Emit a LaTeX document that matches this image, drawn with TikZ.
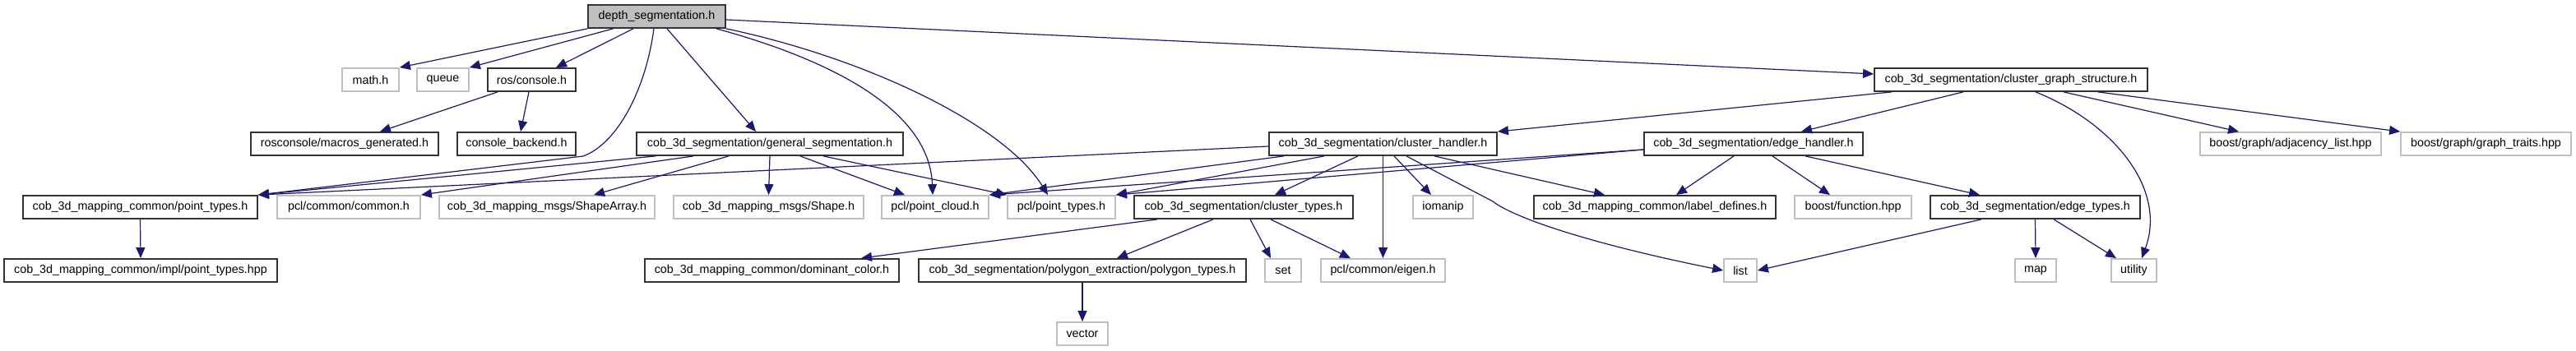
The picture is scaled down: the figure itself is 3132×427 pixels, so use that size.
\documentclass[tikz,border=0pt]{standalone}
\usepackage{fontspec}
\setmainfont{Liberation Sans}
\usetikzlibrary{arrows.meta,calc}
\definecolor{edgeblue}{HTML}{191970}
\definecolor{boxgray}{HTML}{BFBFBF}

\begin{document}
\begin{tikzpicture}[x=0.5pt,y=-0.5pt,
    hfile/.style={draw=black!80, line width=0.9pt, fill=white, minimum height=14pt, inner sep=0pt, font=\fontsize{7.15}{8}\selectfont},
    sysfile/.style={hfile, draw=boxgray},
    mainfile/.style={hfile, fill=boxgray},
    inc/.style={draw=edgeblue, line width=0.6pt, -{Triangle[length=6.5pt,width=5.5pt]}}]
    \useasboundingbox (0,0) rectangle (3132,427);

    \node[mainfile, minimum width=83.5pt] (depth) at (798.5,20) {depth\_segmentation.h};

    \node[sysfile, minimum width=34.5pt] (math) at (450.5,97) {math.h};
    \node[sysfile, minimum width=31.5pt] (queue) at (538.5,97) {queue};
    \node[hfile, minimum width=53.5pt] (roscon) at (646.5,97) {ros/console.h};
    \node[hfile, minimum width=166pt] (cgs) at (2445,97) {cob\_3d\_segmentation/cluster\_graph\_structure.h};

    \node[hfile, minimum width=114pt] (macros) at (419,175) {rosconsole/macros\_generated.h};
    \node[hfile, minimum width=72pt] (backend) at (628,175) {console\_backend.h};
    \node[hfile, minimum width=162pt] (gseg) at (936,175) {cob\_3d\_segmentation/general\_segmentation.h};
    \node[hfile, minimum width=138.5pt] (chandler) at (1681.5,175) {cob\_3d\_segmentation/cluster\_handler.h};
    \node[hfile, minimum width=133pt] (ehandler) at (2132,175) {cob\_3d\_segmentation/edge\_handler.h};
    \node[sysfile, minimum width=110pt] (adj) at (2785,175) {boost/graph/adjacency\_list.hpp};
    \node[sysfile, minimum width=103.5pt] (gtraits) at (3022.5,175) {boost/graph/graph\_traits.hpp};

    \node[hfile, minimum width=142.5pt] (cpt) at (170.5,252) {cob\_3d\_mapping\_common/point\_types.h};
    \node[sysfile, minimum width=87pt] (common) at (424,252) {pcl/common/common.h};
    \node[sysfile, minimum width=131pt] (shapearr) at (665,252) {cob\_3d\_mapping\_msgs/ShapeArray.h};
    \node[sysfile, minimum width=115.5pt] (shape) at (934.5,252) {cob\_3d\_mapping\_msgs/Shape.h};
    \node[sysfile, minimum width=65pt] (pcloud) at (1137,252) {pcl/point\_cloud.h};
    \node[sysfile, minimum width=65.5pt] (ptypes) at (1290.5,252) {pcl/point\_types.h};
    \node[hfile, minimum width=133pt] (ctypes) at (1512,252) {cob\_3d\_segmentation/cluster\_types.h};
    \node[sysfile, minimum width=36.5pt] (iomanip) at (1754.5,252) {iomanip};
    \node[hfile, minimum width=147pt] (labeldef) at (2012,252) {cob\_3d\_mapping\_common/label\_defines.h};
    \node[sysfile, minimum width=71pt] (bfunc) at (2253,252) {boost/function.hpp};
    \node[hfile, minimum width=127.5pt] (etypes) at (2474.5,252) {cob\_3d\_segmentation/edge\_types.h};

    \node[hfile, minimum width=166pt] (impl) at (171,329) {cob\_3d\_mapping\_common/impl/point\_types.hpp};
    \node[hfile, minimum width=154.5pt] (domcol) at (938.5,329) {cob\_3d\_mapping\_common/dominant\_color.h};
    \node[hfile, minimum width=199pt] (polytypes) at (1316,329) {cob\_3d\_segmentation/polygon\_extraction/polygon\_types.h};
    \node[sysfile, minimum width=22pt] (set) at (1560,329) {set};
    \node[sysfile, minimum width=75.5pt] (eigen) at (1681.5,329) {pcl/common/eigen.h};
    \node[sysfile, minimum width=20pt] (list) at (2116,329) {list};
    \node[sysfile, minimum width=25pt] (map) at (2475,329) {map};
    \node[sysfile, minimum width=27.5pt] (utility) at (2594.5,329) {utility};

    \node[sysfile, minimum width=31pt] (vector) at (1316,406) {vector};

    \draw[inc] (depth.south west) -- (math.north east);
    \draw[inc] ($(depth.south)+(-53,0)$) -- (queue.north east);
    \draw[inc] ($(depth.south)+(-28.5,0)$) -- ($(roscon.north)+(29.5,0)$);
    \draw[inc] ($(depth.south)+(-3.5,0)$) .. controls (785,110) and (750,175) .. (709,190) -- (cpt.north east);
    \draw[inc] ($(depth.south)+(12.5,0)$) -- ($(gseg.north)+(-17,0)$);
    \draw[inc] ($(depth.south)+(72.5,0)$) .. controls (1000,70) and (1130,130) .. ($(pcloud.north)+(-3,0)$);
    \draw[inc] (depth.south east) .. controls (1050,70) and (1220,150) .. ($(ptypes.north)+(-16.5,0)$);
    \draw[inc] ($(depth.east)+(0,4)$) -- ($(cgs.west)+(0,-7)$);

    \draw[inc] ($(roscon.south)+(-41.5,0)$) -- ($(macros.north)+(43,0)$);
    \draw[inc] ($(roscon.south)+(-3.5,0)$) -- ($(backend.north)+(5,0)$);

    \draw[inc] ($(cgs.south)+(-145,0)$) -- (chandler.north east);
    \draw[inc] ($(cgs.south)+(-58,0)$) -- ($(ehandler.north)+(58,0)$);
    \draw[inc] ($(cgs.south)+(64,0)$) -- ($(adj.north)+(-63,0)$);
    \draw[inc] ($(cgs.south)+(106,0)$) -- (gtraits.north west);
    \draw[inc] ($(cgs.south)+(30,0)$) .. controls (2570,150) and (2635,230) .. ($(utility.north)+(9.5,0)$);

    \draw[inc] ($(gseg.south)+(-139,0)$) -- (cpt.north east);
    \draw[inc] ($(gseg.south)+(-93,0)$) -- (common.north east);
    \draw[inc] ($(gseg.south)+(-50,0)$) -- ($(shapearr.north)+(57,0)$);
    \draw[inc] (gseg.south) -- (shape.north);
    \draw[inc] ($(gseg.south)+(37,0)$) -- ($(pcloud.north)+(-37,0)$);
    \draw[inc] ($(gseg.south)+(65,0)$) -- (ptypes.north west);

    \draw[inc] ($(chandler.west)+(0,3)$) -- (cpt.north east);
    \draw[inc] ($(chandler.south)+(-120.5,0)$) -- (pcloud.north east);
    \draw[inc] ($(chandler.south)+(-71.5,0)$) -- (ptypes.north east);
    \draw[inc] ($(chandler.south)+(-30.5,0)$) -- ($(ctypes.north)+(38,0)$);
    \draw[inc] (chandler.south) -- (eigen.north);
    \draw[inc] ($(chandler.south)+(13.5,0)$) -- ($(iomanip.north)+(-14.5,0)$);
    \draw[inc] ($(chandler.south)+(28.5,0)$) -- (1815,245) .. controls (1845,268) and (1950,300) .. (list.west);
    \draw[inc] ($(chandler.south)+(62.5,0)$) -- ($(labeldef.north)+(-61,0)$);

    \draw[inc] ($(ehandler.west)+(0,7)$) -- (pcloud.north east);
    \draw[inc] ($(ehandler.west)+(0,7)$) -- (ptypes.north east);
    \draw[inc] ($(ehandler.south)+(-24,0)$) -- ($(labeldef.north)+(26,0)$);
    \draw[inc] ($(ehandler.south)+(23,0)$) -- ($(bfunc.north)+(-28,0)$);
    \draw[inc] ($(ehandler.south)+(63,0)$) -- ($(etypes.north)+(-67.5,0)$);

    \draw[inc] ($(ctypes.south)+(-105,0)$) -- ($(domcol.north)+(108.5,0)$);
    \draw[inc] ($(ctypes.south)+(-37,0)$) -- ($(polytypes.north)+(42,0)$);
    \draw[inc] ($(ctypes.south)+(8,0)$) -- ($(set.north)+(-15,0)$);
    \draw[inc] ($(ctypes.south)+(33,0)$) -- ($(eigen.north)+(-39.5,0)$);

    \draw[inc] ($(etypes.south)+(-65.5,0)$) -- (list.east);
    \draw[inc] (etypes.south) -- (map.north);
    \draw[inc] ($(etypes.south)+(22.5,0)$) -- ($(utility.north)+(-21.5,0)$);

    \draw[inc] (cpt.south) -- (impl.north);
    \draw[inc] (polytypes.south) -- (vector.north);
\end{tikzpicture}
\end{document}
